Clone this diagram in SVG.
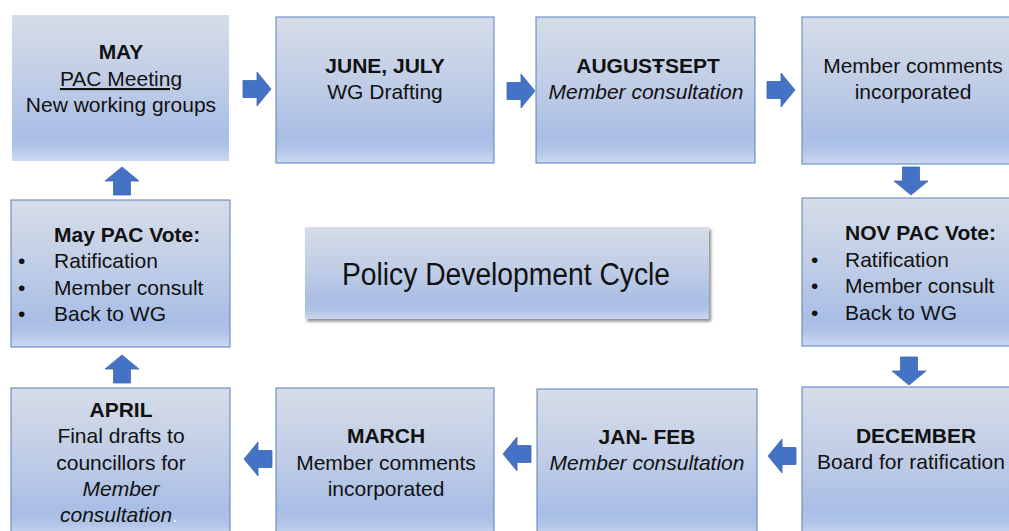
<svg xmlns="http://www.w3.org/2000/svg" width="1009" height="531" viewBox="0 0 1009 531">
  <style>
    .box { fill: url(#boxFill); stroke: #5b7fbf; stroke-width: 1; }
    .plain { fill: url(#boxFill); }
    text { font-family: "Liberation Sans", Arial, sans-serif; font-size: 21px; fill: #111; }
    .c { text-anchor: middle; }
    .b { font-weight: bold; }
    .i { font-style: italic; }
    .arrow { fill: #4472c4; stroke: #3d66b0; stroke-width: 0.8; }
  </style>
  <defs>
    <linearGradient id="boxFill" x1="0" y1="0" x2="0" y2="1">
      <stop offset="0" stop-color="#d6dde8"/>
      <stop offset="0.45" stop-color="#c0cde6"/>
      <stop offset="0.82" stop-color="#a9bee5"/>
      <stop offset="0.9" stop-color="#b0c4e8"/>
      <stop offset="1" stop-color="#ccd8f0"/>
    </linearGradient>
    <filter id="shadow" x="-5%" y="-10%" width="115%" height="130%">
      <feDropShadow dx="2" dy="2.5" stdDeviation="1.5" flood-color="#000" flood-opacity="0.45"/>
    </filter>
    <!-- block arrow pointing right, centred on the origin -->
    <path id="blockArrow" d="M-14,-8.5 H0 V-17 L14,0 L0,17 V8.5 H-14 Z"/>
  </defs>

  <rect width="1009" height="531" fill="#ffffff"/>

  <!-- connectors -->
  <g id="connectors" class="arrow">
    <use href="#blockArrow" transform="translate(257,89)"/>
    <use href="#blockArrow" transform="translate(521,91)"/>
    <use href="#blockArrow" transform="translate(781,90)"/>
    <use href="#blockArrow" transform="translate(911,181) rotate(90)"/>
    <use href="#blockArrow" transform="translate(909,371) rotate(90)"/>
    <use href="#blockArrow" transform="translate(782,456) rotate(180)"/>
    <use href="#blockArrow" transform="translate(517,454) rotate(180)"/>
    <use href="#blockArrow" transform="translate(258,459) rotate(180)"/>
    <use href="#blockArrow" transform="translate(122,369) rotate(-90)"/>
    <use href="#blockArrow" transform="translate(122,181) rotate(-90)"/>
  </g>

  <g id="may">
    <rect class="plain" x="12" y="15" width="217" height="146"/>
    <text class="c b" x="121" y="59">MAY</text>
    <text class="c" x="121" y="86" text-decoration="underline">PAC Meeting</text>
    <text class="c" x="121" y="112">New working groups</text>
  </g>

  <g id="june-july">
    <rect class="box" x="276" y="17" width="218" height="146"/>
    <text class="c b" x="385" y="73">JUNE, JULY</text>
    <text class="c" x="385" y="99">WG Drafting</text>
  </g>

  <g id="august-sept">
    <rect class="box" x="536" y="17" width="219" height="146"/>
    <text class="c b" x="648" y="73">AUGUSŦSEPT</text>
    <text class="c i" x="646" y="99">Member consultation</text>
  </g>

  <g id="comments-incorporated">
    <rect class="box" x="802" y="17" width="220" height="147"/>
    <text class="c" x="913" y="73">Member comments</text>
    <text class="c" x="913" y="99">incorporated</text>
  </g>

  <g id="nov-vote">
    <rect class="box" x="802" y="198" width="220" height="148"/>
    <text class="b" x="845" y="240">NOV PAC Vote:</text>
    <text x="811" y="267">•</text>
    <text x="845" y="267">Ratification</text>
    <text x="811" y="293">•</text>
    <text x="845" y="293">Member consult</text>
    <text x="811" y="320">•</text>
    <text x="845" y="320">Back to WG</text>
  </g>

  <g id="december">
    <rect class="box" x="802" y="387" width="220" height="150"/>
    <text class="c b" x="916" y="443">DECEMBER</text>
    <text class="c" x="911" y="469">Board for ratification</text>
  </g>

  <g id="jan-feb">
    <rect class="box" x="537" y="389" width="220" height="150"/>
    <text class="c b" x="647" y="444">JAN- FEB</text>
    <text class="c i" x="647" y="470">Member consultation</text>
  </g>

  <g id="march">
    <rect class="box" x="276" y="388" width="218" height="150"/>
    <text class="c b" x="386" y="443">MARCH</text>
    <text class="c" x="386" y="470">Member comments</text>
    <text class="c" x="386" y="496">incorporated</text>
  </g>

  <g id="april">
    <rect class="box" x="11" y="388" width="219" height="150"/>
    <text class="c b" x="121" y="417">APRIL</text>
    <text class="c" x="121" y="443">Final drafts to</text>
    <text class="c" x="121" y="470">councillors for</text>
    <text class="c i" x="121" y="496">Member</text>
    <text class="i" x="60" y="522">consultation<tspan style="font-style:normal" fill="#eef2fa">.</tspan></text>
  </g>

  <g id="may-vote">
    <rect class="box" x="11" y="200" width="219" height="147"/>
    <text class="b" x="54" y="242">May PAC Vote:</text>
    <text x="18" y="268">•</text>
    <text x="54" y="268">Ratification</text>
    <text x="18" y="295">•</text>
    <text x="54" y="295">Member consult</text>
    <text x="18" y="321">•</text>
    <text x="54" y="321">Back to WG</text>
  </g>

  <g id="title">
    <rect class="plain" x="305" y="227" width="404" height="92" filter="url(#shadow)"/>
    <text x="342" y="285" textLength="328" lengthAdjust="spacingAndGlyphs" style="font-size:31px">Policy Development Cycle</text>
  </g>
</svg>
